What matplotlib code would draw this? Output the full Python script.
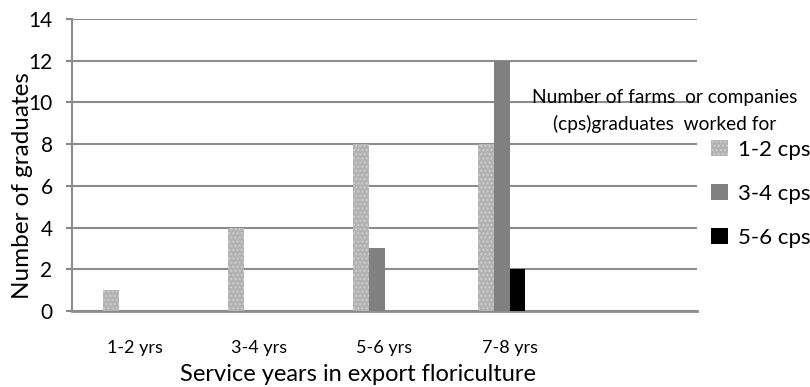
import numpy as np
import matplotlib
matplotlib.use('Agg')
import matplotlib.pyplot as plt
from matplotlib.patches import Patch

plt.rcParams['font.family'] = ['Lato', 'DejaVu Sans']
plt.rcParams['hatch.linewidth'] = 1.0

# data
years = ['1-2 yrs', '3-4 yrs', '5-6 yrs', '7-8 yrs', '']
cps_1_2 = [1, 4, 8, 8, 0]
cps_3_4 = [0, 0, 3, 12, 0]
cps_5_6 = [0, 0, 0, 2, 0]
series_names = ['1-2 cps', '3-4 cps', '5-6 cps']

fig = plt.figure(figsize=(8.1, 3.87), dpi=100)
ax = fig.add_axes([0.0889, 0.1964, 0.7716, 0.7545])

x = np.arange(len(years))
w = 0.125
# four slots per group in the original, last one empty
offs = (np.arange(4) - 1.5) * w

ax.bar(x + offs[0], cps_1_2, w, color='#b2b2b2', edgecolor='#cdcdcd',
       hatch='....', linewidth=0, zorder=3)
ax.bar(x + offs[1], cps_3_4, w, color='#808080', linewidth=0, zorder=3)
ax.bar(x + offs[2], cps_5_6, w, color='#000000', linewidth=0, zorder=3)

ax.set_xlim(-0.5, len(years) - 0.5)
ax.set_ylim(0, 14)
ax.set_yticks(np.arange(0, 15, 2))
ax.set_xticks(x)
ax.set_xticklabels(years, fontsize=13)
ax.tick_params(axis='x', length=0, pad=21)
ax.tick_params(axis='y', length=4, width=1.5, color='#888888', labelsize=15, pad=10)

ax.grid(axis='y', color='#8c8c8c', linewidth=1.5, zorder=0)
for s in ['top', 'right']:
    ax.spines[s].set_visible(False)
ax.spines['left'].set_color('#8c8c8c')
ax.spines['left'].set_linewidth(1.5)
ax.spines['bottom'].set_color('#8c8c8c')
ax.spines['bottom'].set_linewidth(2)

ax.set_ylabel('Number of graduates', fontsize=17.5)
ax.yaxis.set_label_coords(-0.063, 0.428)
ax.set_xlabel('Service years in export floriculture', fontsize=17)
ax.xaxis.set_label_coords(0.458, -0.18)

fig.text(665 / 810, 1 - 98 / 387, 'Number of farms  or companies',
         ha='center', va='center', fontsize=13.8)
fig.text(665 / 810, 1 - 124 / 387, '(cps)graduates  worked for',
         ha='center', va='center', fontsize=13.8)

handles = [Patch(facecolor='#b2b2b2', edgecolor='#cdcdcd', hatch='....', linewidth=0),
           Patch(facecolor='#808080', linewidth=0),
           Patch(facecolor='#000000', linewidth=0)]
fig.legend(handles, series_names, loc='upper left',
           bbox_to_anchor=(711 / 810, 1 - 140 / 387), frameon=False,
           fontsize=16, handlelength=0.75, handleheight=0.75,
           handletextpad=0.45, labelspacing=1.08, borderpad=0, borderaxespad=0)

plt.savefig('out.png', dpi=100)
